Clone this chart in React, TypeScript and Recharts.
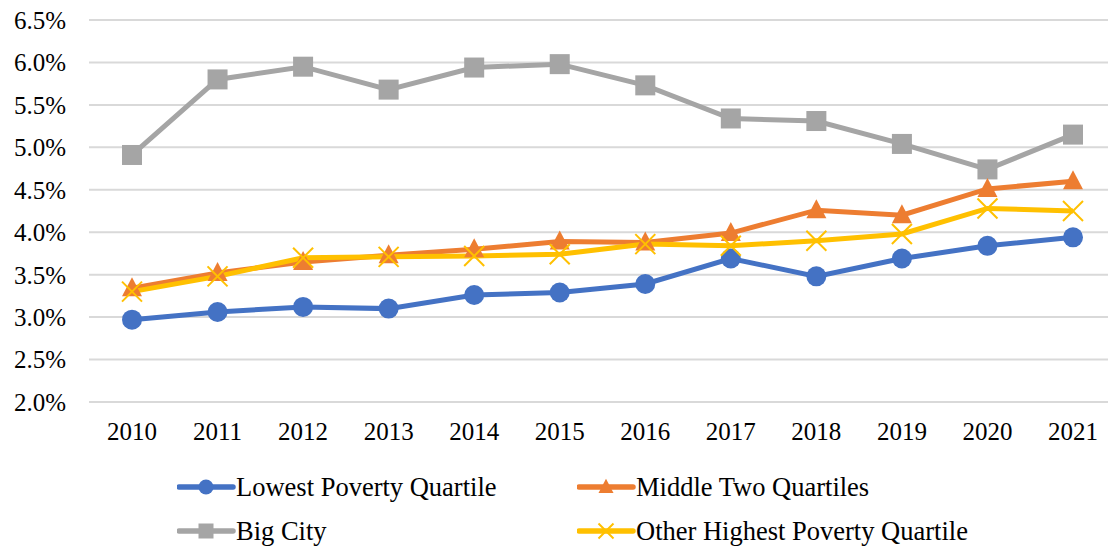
import React from 'react'
import { LineChart, Line, XAxis, YAxis, CartesianGrid, Legend } from 'recharts'

const years = ['2010', '2011', '2012', '2013', '2014', '2015', '2016', '2017', '2018', '2019', '2020', '2021']

// share of students, in percent
const lowestPoverty = [2.97, 3.06, 3.12, 3.1, 3.26, 3.29, 3.39, 3.69, 3.48, 3.69, 3.84, 3.94]
const middleTwo = [3.34, 3.52, 3.65, 3.73, 3.8, 3.89, 3.88, 3.99, 4.26, 4.2, 4.51, 4.6]
const bigCity = [4.91, 5.8, 5.95, 5.68, 5.94, 5.98, 5.73, 5.34, 5.31, 5.04, 4.74, 5.15]
const otherHighest = [3.3, 3.48, 3.7, 3.71, 3.72, 3.74, 3.86, 3.84, 3.9, 3.98, 4.28, 4.25]

const yTicks = [2, 2.5, 3, 3.5, 4, 4.5, 5, 5.5, 6, 6.5]

const FONT = '"Liberation Serif"'

const series = [
  { key: 'lowest', name: 'Lowest Poverty Quartile', color: '#4472C4', marker: 'circle' },
  { key: 'middle', name: 'Middle Two Quartiles', color: '#ED7D31', marker: 'triangle' },
  { key: 'bigCity', name: 'Big City', color: '#A5A5A5', marker: 'square' },
  { key: 'other', name: 'Other Highest Poverty Quartile', color: '#FFC000', marker: 'x' },
]

const data = years.map((year, i) => ({
  year,
  lowest: lowestPoverty[i],
  middle: middleTwo[i],
  bigCity: bigCity[i],
  other: otherHighest[i],
}))

function Marker({ type, cx, cy, color, s = 10 }: { type: string; cx: number; cy: number; color: string; s?: number }) {
  if (type === 'circle') return <circle cx={cx} cy={cy} r={s} fill={color} />
  if (type === 'square') return <rect x={cx - s} y={cy - s} width={s * 2} height={s * 2} fill={color} />
  if (type === 'triangle')
    return <polygon points={`${cx},${cy - s * 1.1} ${cx + s},${cy + s * 0.8} ${cx - s},${cy + s * 0.8}`} fill={color} />
  return (
    <g stroke={color} strokeWidth={2}>
      <line x1={cx - s} y1={cy - s} x2={cx + s} y2={cy + s} />
      <line x1={cx - s} y1={cy + s} x2={cx + s} y2={cy - s} />
    </g>
  )
}

function makeDot(type: string, color: string) {
  return (props: any) => (
    <Marker key={`${type}-${props.index}`} type={type} cx={props.cx} cy={props.cy} color={color} />
  )
}

function LegendBox() {
  return (
    <div
      style={{
        display: 'grid',
        gridTemplateColumns: '400px 420px',
        gridAutoRows: '44px',
        fontFamily: FONT,
        fontSize: 26.5,
        color: '#000',
      }}
    >
      {series.map(s => (
        <div key={s.key} style={{ display: 'flex', alignItems: 'center', whiteSpace: 'nowrap' }}>
          <svg width={59} height={24} style={{ flex: 'none' }}>
            <line x1={2} y1={12} x2={56} y2={12} stroke={s.color} strokeWidth={5.5} strokeLinecap="round" />
            <Marker type={s.marker} cx={29} cy={12} color={s.color} s={7.5} />
          </svg>
          <span>{s.name}</span>
        </div>
      ))}
    </div>
  )
}

const tickStyle = { fill: '#000', fontFamily: FONT, fontSize: 25 }

export default function App() {
  return (
    <div style={{ position: 'absolute', left: 0, top: 0, width: 1108, height: 549, overflow: 'hidden', background: '#fff' }}>
      <LineChart width={1120} height={549} data={data} margin={{ top: 20, right: 4, left: 0, bottom: 100 }}>
        <CartesianGrid vertical={false} stroke="#D9D9D9" strokeWidth={2} />
        <XAxis
          dataKey="year"
          axisLine={false}
          tickLine={false}
          tickSize={0}
          tickMargin={20}
          height={47}
          padding={{ left: 43, right: 43 }}
          tick={tickStyle}
        />
        <YAxis
          domain={[2, 6.5]}
          ticks={yTicks}
          interval={0}
          axisLine={false}
          tickLine={false}
          tickSize={0}
          tickMargin={23}
          width={89}
          tickFormatter={(v: number) => `${v.toFixed(1)}%`}
          tick={tickStyle}
        />
        <Legend
          verticalAlign="middle"
          align="center"
          layout="horizontal"
          wrapperStyle={{ top: 465, left: 177, width: 820 }}
          content={() => <LegendBox />}
        />
        {[series[2], series[0], series[1], series[3]].map(s => (
          <Line
            key={s.key}
            type="linear"
            dataKey={s.key}
            name={s.name}
            stroke={s.color}
            strokeWidth={5}
            dot={makeDot(s.marker, s.color)}
            activeDot={false}
            isAnimationActive={false}
          />
        ))}
      </LineChart>
    </div>
  )
}
